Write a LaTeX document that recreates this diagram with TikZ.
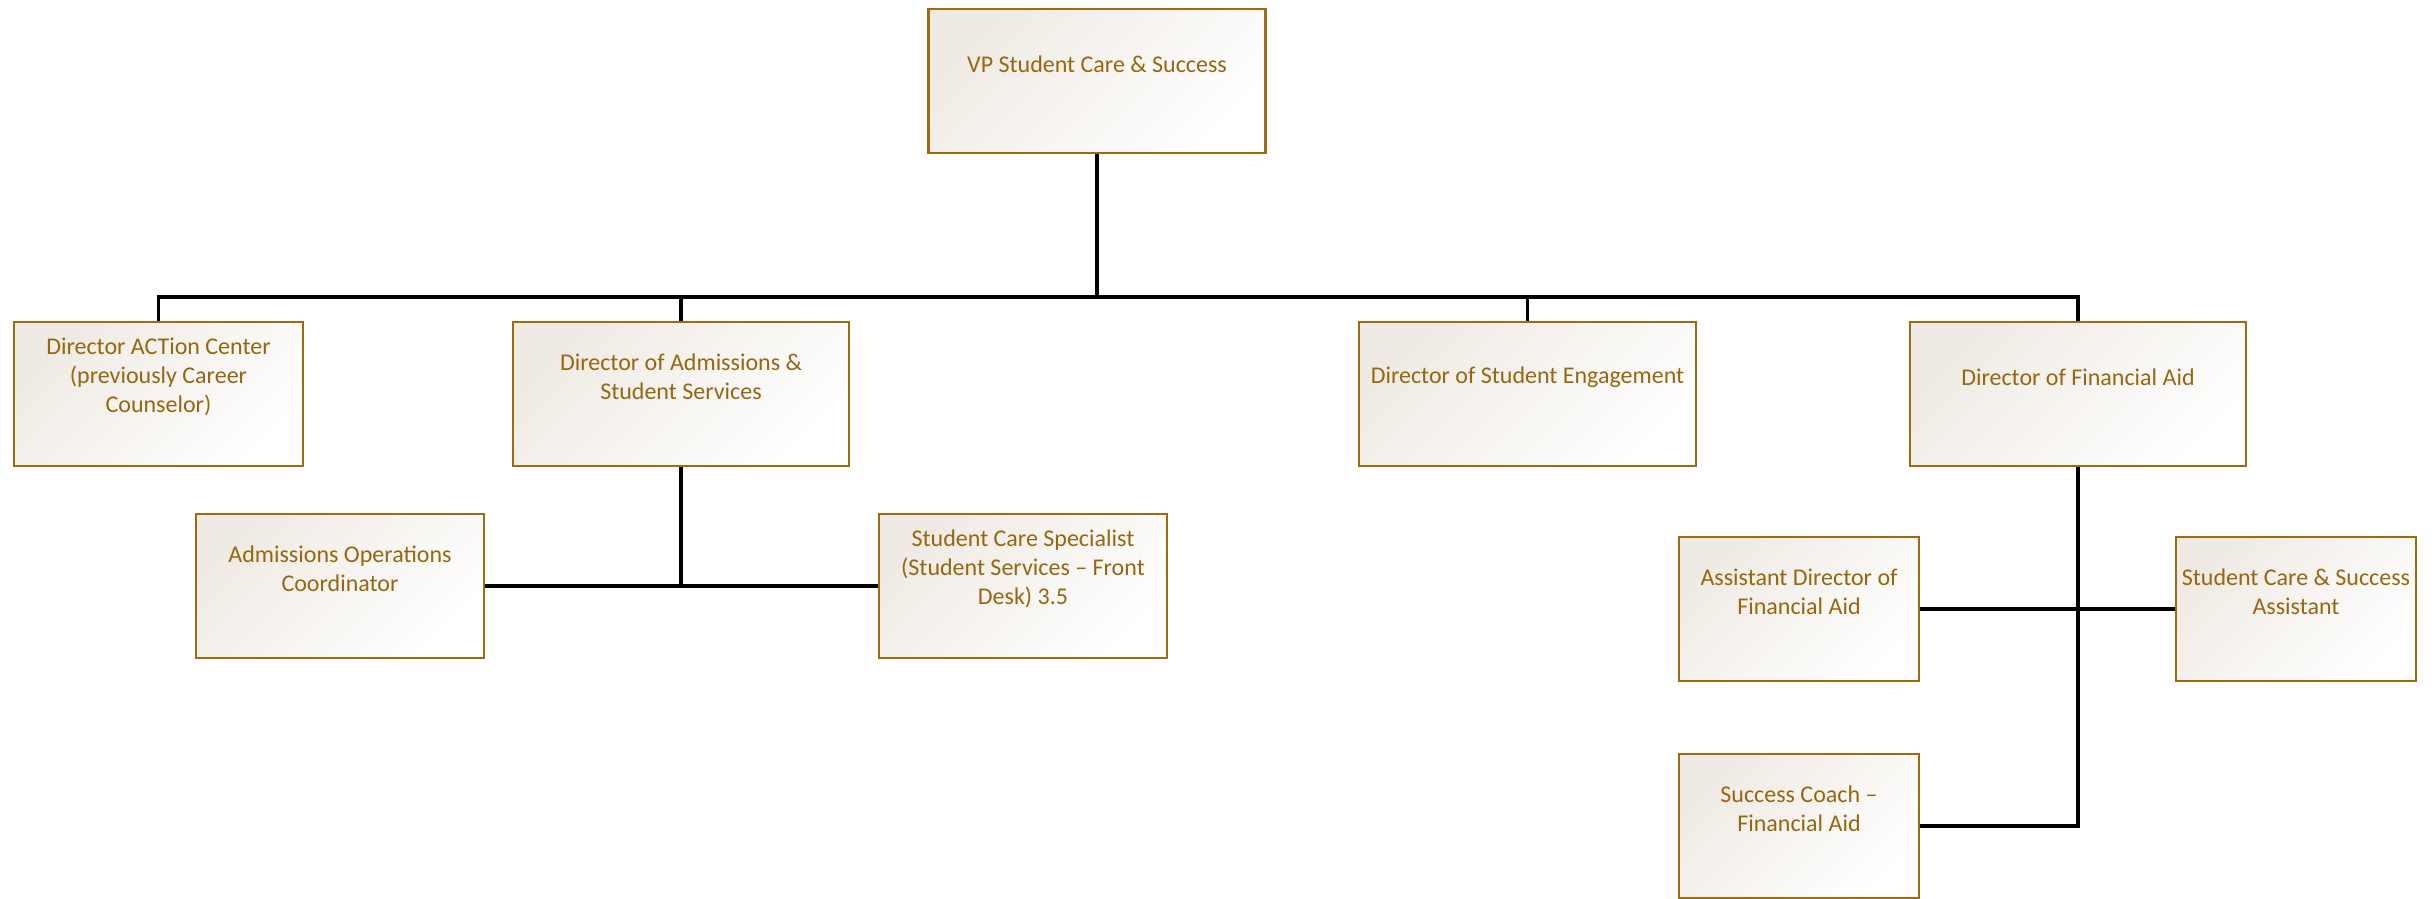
\documentclass[tikz,border=0pt]{standalone}
\usepackage{fontspec}
\setmainfont{Carlito}
\definecolor{gold}{RGB}{156,107,18}
\definecolor{goldtext}{RGB}{152,102,15}
\definecolor{cream}{RGB}{239,234,227}
\begin{document}
\begin{tikzpicture}
[x=0.4pt, y=-0.4pt,
unit/.style={draw=gold, line width=1pt, top color=cream, middle color=white!80!cream, bottom color=white, shading angle=45, minimum height=57.6pt, inner sep=0pt},
txt/.style={align=center, text=goldtext, font=\fontsize{9.6}{11.6}\selectfont, yshift=6.8pt},
wire/.style={line width=1.4pt}]

\useasboundingbox (0,0) rectangle (2435,899);

\node[unit, minimum width=134.8pt, label={[txt]center:VP Student Care \& Success}] (VP) at (1097,81) {};

\node[unit, minimum width=115.6pt, label={[txt]center:Director ACTion Center\\(previously Career\\Counselor)}] (AC) at (158.5,394) {};
\node[unit, minimum width=134.4pt, label={[txt]center:Director of Admissions \&\\Student Services}] (AD) at (681,394) {};
\node[unit, minimum width=134.8pt, label={[txt]center:Director of Student Engagement}] (SE) at (1527.5,394) {};
\node[unit, minimum width=134.4pt, label={[txt]center:Director of Financial Aid}] (FA) at (2078,394) {};

\node[unit, minimum width=115.2pt, label={[txt]center:Admissions Operations\\Coordinator}] (AO) at (340,586) {};
\node[unit, minimum width=115.2pt, label={[txt]center:Student Care Specialist\\(Student Services -- Front\\Desk) 3.5}] (CS) at (1023,586) {};

\node[unit, minimum width=96pt, label={[txt]center:Assistant Director of\\Financial Aid}] (AF) at (1799,609) {};
\node[unit, minimum width=96pt, label={[txt]center:Student Care \& Success\\Assistant}] (SA) at (2296,609) {};
\node[unit, minimum width=96pt, label={[txt]center:Success Coach --\\Financial Aid}] (SC) at (1799,826) {};

\coordinate (bus) at (1097,297);

\draw[wire] (VP.south) -- (bus);
\draw[wire] (AC.north) -- (AC.north |- bus) -- (FA.north |- bus) -- (FA.north);
\draw[wire] (AD.north) -- (AD.north |- bus);
\draw[wire] (SE.north) -- (SE.north |- bus);

\draw[wire] (AD.south) -- (AD.south |- AO.east);
\draw[wire] (AO.east) -- (CS.west);

\draw[wire] (FA.south) |- (SC.east);
\draw[wire] (AF.east) -- (SA.west);

\end{tikzpicture}
\end{document}
